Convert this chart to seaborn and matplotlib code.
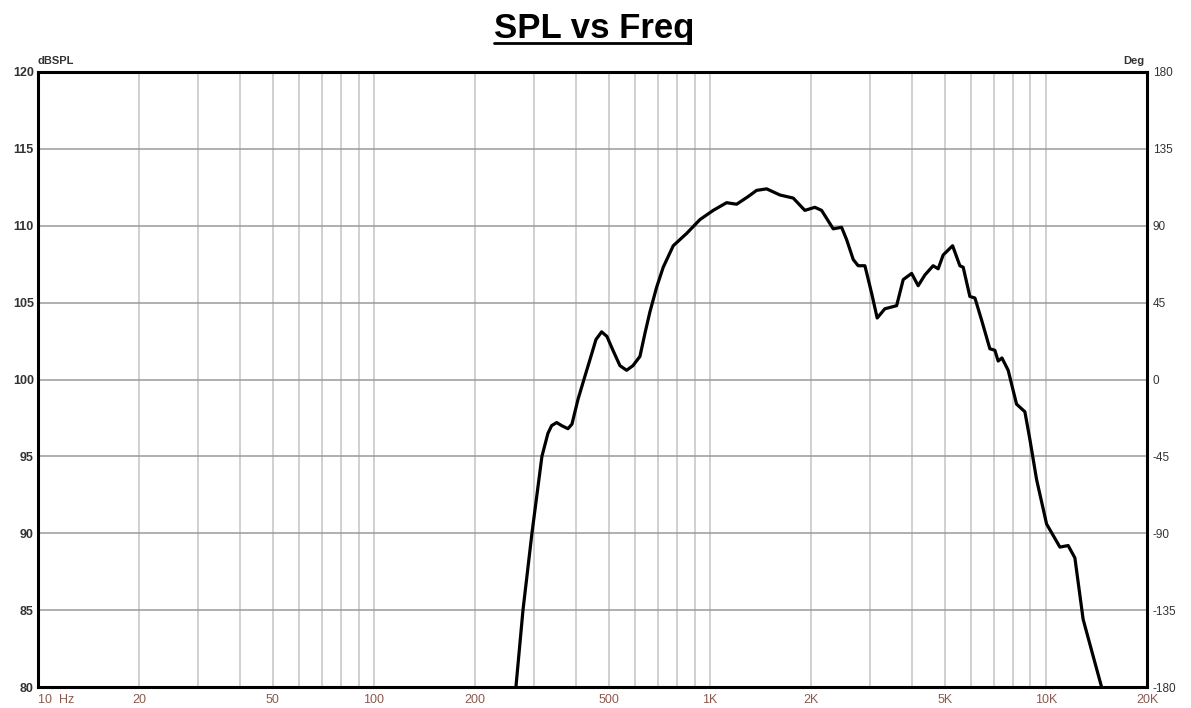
import numpy as np
import pandas as pd
import matplotlib
matplotlib.use("Agg")
import matplotlib.pyplot as plt
import seaborn as sns
from matplotlib.lines import Line2D

# ---- data ----
freq_hz = [250, 264.6, 277.7, 295.3, 316.2, 329.5, 338.0, 349.8, 362, 377.9, 388.5, 404.8,
           421.7, 439.6, 458.0, 476.1, 493.8, 514.5, 539.8, 565.0, 590.0, 619.0, 640.6,
           662.9, 694.0, 726.1, 777.8, 852.5, 933.9,
           1023, 1121, 1201, 1300, 1377, 1475, 1616, 1770, 1917, 2053, 2150, 2328,
           2466, 2552, 2671, 2763, 2893, 3030, 3147, 3317, 3595, 3762, 3985, 4168,
           4365, 4618, 4780, 4947, 5277, 5546, 5674, 5940, 6150, 6450, 6812, 7050,
           7211, 7400, 7723, 8179, 8660, 8963, 9382, 10050, 11010, 11650, 12200,
           12910, 13830, 14650, 15500]
spl_db = [77.0, 80.0, 85.0, 90.0, 95.0, 96.5, 97.0, 97.2, 97.0, 96.8, 97.1, 98.7,
          100.0, 101.3, 102.6, 103.1, 102.8, 101.9, 100.9, 100.6, 100.9, 101.5, 103.0,
          104.4, 106.0, 107.3, 108.7, 109.5, 110.4,
          111.0, 111.5, 111.4, 111.9, 112.3, 112.4, 112.0, 111.8, 111.0, 111.2, 111.0, 109.8,
          109.9, 109.1, 107.8, 107.4, 107.4, 105.6, 104.0, 104.6, 104.8, 106.5, 106.9, 106.1,
          106.8, 107.4, 107.2, 108.1, 108.7, 107.4, 107.3, 105.4, 105.3, 103.8, 102.0, 101.9,
          101.2, 101.4, 100.6, 98.4, 97.9, 96.1, 93.5, 90.6, 89.1, 89.2, 88.4,
          84.4, 82.0, 80.0, 77.0]

x_ticks = [10, 20, 50, 100, 200, 500, 1000, 2000, 5000, 10000, 20000]
x_ticklabels = ["10  Hz", "20", "50", "100", "200", "500", "1K", "2K", "5K", "10K", "20K"]
y_ticks = [80, 85, 90, 95, 100, 105, 110, 115, 120]
deg_ticks = [-180, -135, -90, -45, 0, 45, 90, 135, 180]

df = pd.DataFrame({"freq": freq_hz, "spl": spl_db})

sns.set_style("white")
plt.rcParams["font.family"] = ["Liberation Sans", "DejaVu Sans"]

fig = plt.figure(figsize=(11.91, 7.08), dpi=100)
ax = fig.add_axes([38 / 1191, 1 - 687 / 708, (1147 - 38) / 1191, (687 - 72) / 708])

ax.set_xscale("log")
ax.set_xlim(10, 20000)
ax.set_ylim(80, 120)

# grid: vertical lines at every 1..9 multiple
for dec in [10, 100, 1000, 10000]:
    for m in range(1, 10):
        f = dec * m
        if 10 < f < 20000:
            ax.axvline(f, color="#c4c4c4", lw=1.1, zorder=1)
for yv in y_ticks[1:-1]:
    ax.axhline(yv, color="#9a9a9a", lw=1.1, zorder=1)

sns.lineplot(data=df, x="freq", y="spl", ax=ax, color="black", lw=2.3, zorder=3)
for ln in ax.get_lines():
    ln.set_solid_joinstyle("round")
    ln.set_solid_capstyle("round")

ax.set_xlabel("")
ax.set_ylabel("")
ax.set_xticks(x_ticks)
ax.set_xticklabels(x_ticklabels)
ax.minorticks_off()
ax.set_yticks(y_ticks)
ax.set_yticklabels([str(v) for v in y_ticks])
ax.tick_params(axis="x", length=0, pad=5, labelsize=9, labelcolor="#8a5a4e")
ax.tick_params(axis="y", length=0, pad=3, labelsize=9, labelcolor="#333333")
lbls = ax.get_xticklabels()
lbls[0].set_horizontalalignment("left")
for lab in ax.get_yticklabels():
    lab.set_fontweight("bold")

for s in ax.spines.values():
    s.set_color("black")
    s.set_linewidth(2.2)
    s.set_visible(True)

ax2 = ax.twinx()
ax2.set_ylim(-180, 180)
ax2.set_yticks(deg_ticks)
ax2.set_yticklabels([str(v) for v in deg_ticks])
ax2.tick_params(axis="y", length=0, pad=4, labelsize=8.5, labelcolor="#333333")
for s in ax2.spines.values():
    s.set_visible(False)

fig.text(38 / 1191, 1 - 66 / 708, "dBSPL", fontsize=8, fontweight="bold", color="#333333",
         ha="left", va="bottom")
fig.text(1144 / 1191, 1 - 66 / 708, "Deg", fontsize=8, fontweight="bold", color="#333333",
         ha="right", va="bottom")

title = fig.text(594 / 1191, 1 - 38 / 708, "SPL vs Freq", fontsize=25, fontweight="bold",
                 ha="center", va="baseline", color="black")
fig.canvas.draw()
bb = title.get_window_extent().transformed(fig.transFigure.inverted())
yline = 1 - 42.5 / 708
fig.add_artist(Line2D([bb.x0, bb.x1 - 0.004], [yline, yline], color="black", lw=2,
                      transform=fig.transFigure))

fig.savefig("out.png", dpi=100)
